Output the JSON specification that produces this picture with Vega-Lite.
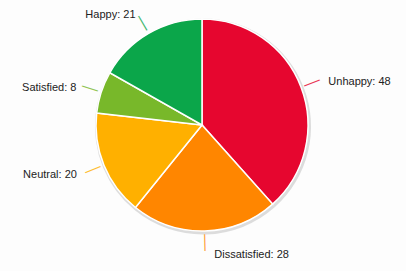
{
  "$schema": "https://vega.github.io/schema/vega-lite/v6.json",
  "autosize": {"type": "none"},
  "width": 404,
  "height": 250,
  "padding": {"left": 0, "top": 0, "right": 2, "bottom": 21},
  "background": "#fdfdfd",
  "config": {"view": {"stroke": null}, "text": {"font": "Liberation Sans"}},
  "data": {
    "values": [
      {"category": "Unhappy", "value": 48, "rank": 1, "label": "Unhappy: 48"},
      {"category": "Dissatisfied", "value": 28, "rank": 2, "label": "Dissatisfied: 28"},
      {"category": "Neutral", "value": 20, "rank": 3, "label": "Neutral: 20"},
      {"category": "Satisfied", "value": 8, "rank": 4, "label": "Satisfied: 8"},
      {"category": "Happy", "value": 21, "rank": 5, "label": "Happy: 21"}
    ]
  },
  "encoding": {
    "theta": {"field": "value", "type": "quantitative", "stack": true},
    "order": {"field": "rank", "type": "quantitative"}
  },
  "layer": [
    {
      "mark": {"type": "arc", "outerRadius": 108, "fill": "#bbbbbb", "opacity": 0.5, "xOffset": 1, "yOffset": 1.5}
    },
    {
      "mark": {"type": "arc", "outerRadius": 106, "stroke": "#ffffff", "strokeWidth": 1.5},
      "encoding": {
        "color": {
          "field": "category",
          "type": "nominal",
          "scale": {
            "domain": ["Unhappy", "Dissatisfied", "Neutral", "Satisfied", "Happy"],
            "range": ["#e6062f", "#ff8600", "#ffb000", "#78b82a", "#0ba64a"]
          },
          "legend": null
        }
      }
    },
    {
      "mark": {"type": "text", "text": "│", "font": "DejaVu Sans", "radius": 117, "align": "center", "baseline": "middle", "fontSize": 14, "opacity": 0.8,
        "angle": {"expr": "scale('theta', (datum.value_start + datum.value_end) / 2) * 180 / PI"}},
      "encoding": {
        "color": {"field": "category", "type": "nominal", "legend": null}
      }
    },
    {
      "mark": {"type": "text", "radius": 132, "align": "left", "baseline": "middle", "fontSize": 11, "color": "#222222", "dx": 3, "dy": 4},
      "encoding": {
        "text": {"condition": {"test": "datum.rank == 1", "field": "label"}, "value": ""}
      }
    },
    {
      "mark": {"type": "text", "radius": 132, "align": "left", "baseline": "middle", "fontSize": 11, "color": "#222222", "dx": 9, "dy": -2},
      "encoding": {
        "text": {"condition": {"test": "datum.rank == 2", "field": "label"}, "value": ""}
      }
    },
    {
      "mark": {"type": "text", "radius": 132, "align": "right", "baseline": "middle", "fontSize": 11, "color": "#222222", "dx": -3},
      "encoding": {
        "text": {"condition": {"test": "datum.rank == 3", "field": "label"}, "value": ""}
      }
    },
    {
      "mark": {"type": "text", "radius": 132, "align": "right", "baseline": "middle", "fontSize": 11, "color": "#222222", "dy": 4},
      "encoding": {
        "text": {"condition": {"test": "datum.rank > 3", "field": "label"}, "value": ""}
      }
    }
  ]
}
